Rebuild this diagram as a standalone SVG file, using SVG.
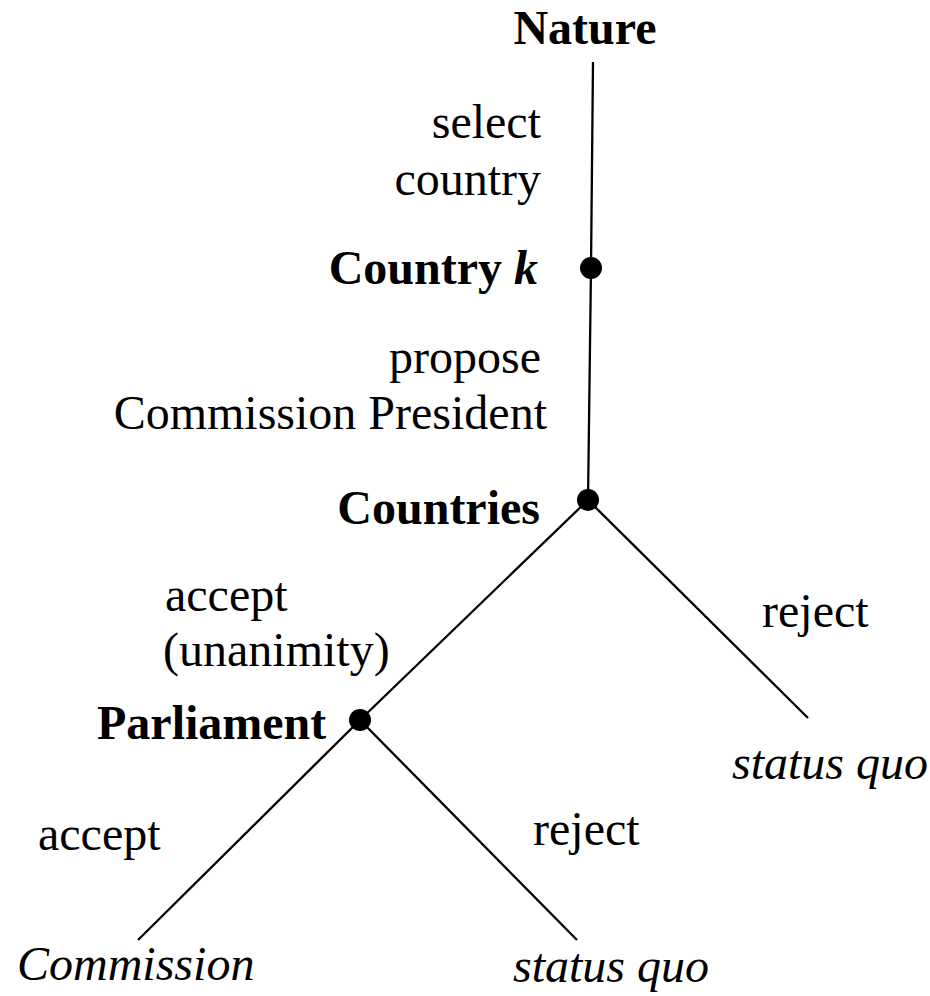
<svg xmlns="http://www.w3.org/2000/svg" width="930" height="996" viewBox="0 0 930 996">
<style>
text{font-family:"Liberation Serif","Times New Roman",serif;font-size:48px;fill:#000}
.b{font-weight:bold}
.i{font-style:italic}
.r{text-anchor:end}
.e{stroke:#000;stroke-width:2.3;fill:none}
.d{fill:#000}
</style>
<rect width="930" height="996" fill="#fff"/>
<g id="edges">
<line class="e" x1="593" y1="62" x2="591" y2="268"/>
<line class="e" x1="591" y1="268" x2="588" y2="500"/>
<line class="e" x1="588" y1="500" x2="360" y2="720"/>
<line class="e" x1="588" y1="500" x2="808" y2="718"/>
<line class="e" x1="360" y1="720" x2="138" y2="940"/>
<line class="e" x1="360" y1="720" x2="577" y2="940"/>
</g>
<g id="labels">
<text class="r" x="541" y="138">select</text>
<text class="r" x="541" y="195">country</text>
<text class="r" x="541" y="373">propose</text>
<text class="r" x="547" y="429">Commission President</text>
<text x="165" y="611">accept</text>
<text x="163" y="666">(unanimity)</text>
<text x="762" y="627">reject</text>
<text x="38" y="850">accept</text>
<text x="533" y="845">reject</text>
</g>
<g id="nature"><text class="b" x="585" y="44" text-anchor="middle">Nature</text></g>
<g id="countryk"><circle class="d" cx="591" cy="268" r="11"/><text class="b r" x="538" y="284">Country <tspan class="i">k</tspan></text></g>
<g id="countries"><circle class="d" cx="588" cy="500" r="11"/><text class="b r" x="540" y="524">Countries</text></g>
<g id="parliament"><circle class="d" cx="360" cy="720" r="11"/><text class="b" x="97" y="739">Parliament</text></g>
<g id="sq1"><text class="i" x="732" y="779">status quo</text></g>
<g id="commission"><text class="i" x="17" y="980">Commission</text></g>
<g id="sq2"><text class="i" x="513" y="982">status quo</text></g>
</svg>
